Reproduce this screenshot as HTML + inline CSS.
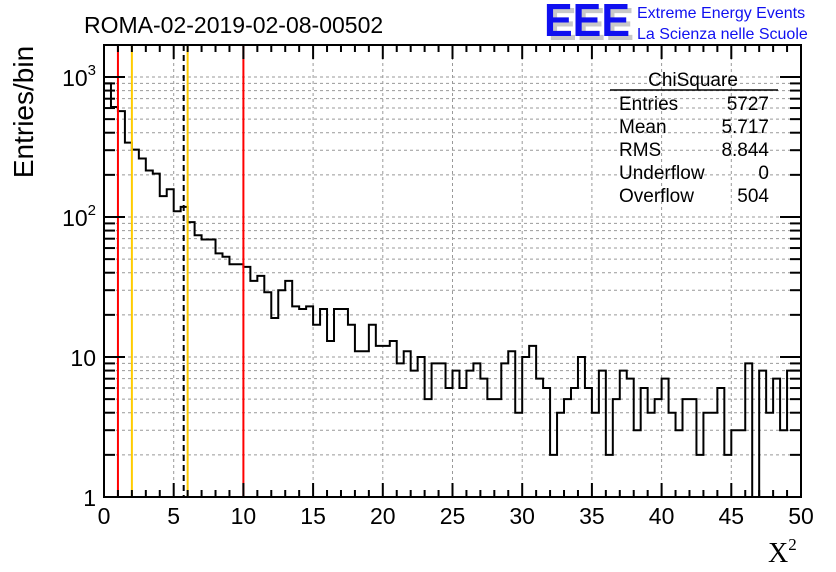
<!DOCTYPE html>
<html><head><meta charset="utf-8"><style>
body{margin:0;background:#fff;}
svg{display:block;font-family:"Liberation Sans",sans-serif;}
</style></head><body>
<svg id="c" width="836" height="572">
<text x="84" y="33" font-size="23">ROMA-02-2019-02-08-00502</text>
<g>
<text x="548" y="40" font-size="46" font-weight="bold" fill="#c8c8c8" textLength="86" lengthAdjust="spacingAndGlyphs">EEE</text>
<text x="544" y="36" font-size="46" font-weight="bold" fill="#1010f0" textLength="86" lengthAdjust="spacingAndGlyphs">EEE</text>
<text x="637" y="18" font-size="16" fill="#1010f0">Extreme Energy Events</text>
<text x="637" y="39" font-size="16" fill="#1010f0">La Scienza nelle Scuole</text>
</g>
<text transform="translate(33,112) rotate(-90)" text-anchor="middle" font-size="28">Entries/bin</text>
<text x="768" y="562" font-size="28" font-family="Liberation Serif,serif">X<tspan font-size="17" dy="-12">2</tspan></text>
<g id="grid"></g><g id="marks"></g><g id="axes"></g>
<g font-size="19">
<text x="693" y="86" text-anchor="middle">ChiSquare</text>
<line x1="610" y1="90" x2="778" y2="90" stroke="#000" stroke-width="1.5"/>
<text x="619" y="110">Entries</text><text x="769" y="110" text-anchor="end">5727</text>
<text x="619" y="133">Mean</text><text x="769" y="133" text-anchor="end">5.717</text>
<text x="619" y="156">RMS</text><text x="769" y="156" text-anchor="end">8.844</text>
<text x="619" y="179">Underflow</text><text x="769" y="179" text-anchor="end">0</text>
<text x="619" y="202">Overflow</text><text x="769" y="202" text-anchor="end">504</text>
</g>
</svg>
<script>
const binCounts=[900,610,570,340,303,262,215,204,141,158,110,118,92,74,69,69,55,52,46,46,44,35,38,29,19,30,35,23,22,23,17,22,13,22,22,17,11,11,17,12,12,13,9,11,8,10,5,9,9,6,8,6,8,9,7,5,5,9,11,4,10,12,7,6,2,4,5,6,10,6,4,8,2,5,8,7,3,6,4,5,7,4,3,5,5,2,4,4,6,2,3,3,9,0,8,4,7,3,8,8];
const xTickLabels=[0,5,10,15,20,25,30,35,40,45,50];
const yDecades=[1,10,100,1000];
const yDecadeLabels=["1","10","10²","10³"];
const redLines=[1,10];
const yellowLines=[2,6];
const meanValue=5.717;
const binWidth=0.5;
const X0=104,X1=801,Y0=497,YT=45,XMAX=50;
const xs=v=>X0+(X1-X0)*v/XMAX;
const ys=v=>v<=0?Y0:Y0-140*Math.log10(v);
const NS="http://www.w3.org/2000/svg";
function mk(t,a,p){const e=document.createElementNS(NS,t);for(const k in a)e.setAttribute(k,a[k]);p.appendChild(e);return e;}
const grid=document.getElementById('grid'),marks=document.getElementById('marks'),axes=document.getElementById('axes');
for(const v of xTickLabels){if(v===0||v===XMAX)continue;const l=mk('line',{x1:xs(v),x2:xs(v),y1:YT,y2:Y0,stroke:'#999','stroke-dasharray':'3,3','stroke-width':1},grid);

}
for(const d of yDecades)for(let m=1;m<10;m++){const v=d*m;const y=ys(v);if(y<YT||v===1)continue;const l=mk('line',{x1:X0,x2:X1,y1:y,y2:y,stroke:'#999','stroke-dasharray':'3,3','stroke-width':1},grid);

}
let d='';for(let i=0;i<binCounts.length;i++){const xa=xs(i*binWidth),xb=xs((i+1)*binWidth),y=ys(binCounts[i]);d+=(i===0?'M'+xa+','+y:'L'+xa+','+y)+'L'+xb+','+y;}
const h=mk('path',{d:d,fill:'none',stroke:'#000','stroke-width':2},marks);


for(const v of redLines){const l=mk('line',{x1:xs(v),x2:xs(v),y1:YT,y2:Y0,stroke:'#f00','stroke-width':2},marks);

}
for(const v of yellowLines){const l=mk('line',{x1:xs(v),x2:xs(v),y1:YT,y2:Y0,stroke:'#fc0','stroke-width':2},marks);

}
const ml=mk('line',{x1:xs(meanValue),x2:xs(meanValue),y1:YT,y2:Y0,stroke:'#000','stroke-width':2,'stroke-dasharray':'6,4'},marks);


const fr=mk('rect',{x:X0,y:YT,width:X1-X0,height:Y0-YT,fill:'none',stroke:'#000','stroke-width':2},axes);


for(let v=0;v<=XMAX;v++){const L=v%5===0?14:7;
mk('line',{x1:xs(v),x2:xs(v),y1:Y0,y2:Y0-L,stroke:'#000','stroke-width':2},axes);
mk('line',{x1:xs(v),x2:xs(v),y1:YT,y2:YT+L,stroke:'#000','stroke-width':2},axes);}
for(const v of xTickLabels){const t=mk('text',{x:xs(v),y:Y0+27,'text-anchor':'middle','font-size':23},axes);t.textContent=v;

}
for(const dd of yDecades)for(let m=1;m<10;m++){const v=dd*m,y=ys(v);if(y<YT)continue;const L=m===1?21:11;
mk('line',{x1:X0,x2:X0+L,y1:y,y2:y,stroke:'#000','stroke-width':2},axes);
mk('line',{x1:X1,x2:X1-L,y1:y,y2:y,stroke:'#000','stroke-width':2},axes);}
yDecades.forEach((v,i)=>{const t=mk('text',{x:96,y:ys(v)+9,'text-anchor':'end','font-size':23},axes);
if(i>=2){t.textContent='10';const s=mk('tspan',{dy:-11,'font-size':15},t);s.textContent=i===2?'2':'3';}else t.textContent=yDecadeLabels[i];

});
</script>
</body></html>
